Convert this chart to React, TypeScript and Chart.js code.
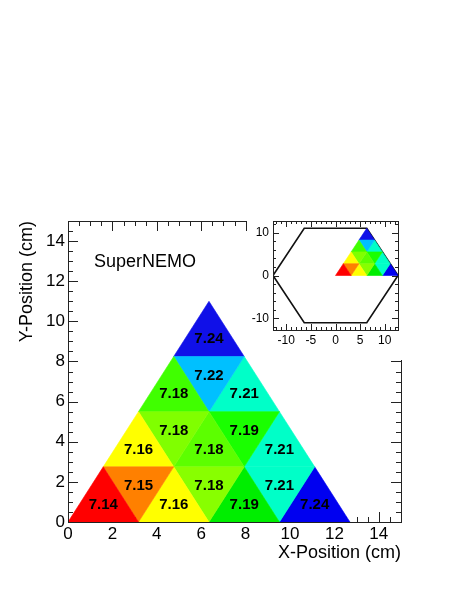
import React, { useEffect, useRef } from "react";
import { Chart, registerables } from "chart.js";

Chart.register(...registerables);

// ---- data ----
const SIDE = 3.175; // cm, side of one small triangular cell
const HEX_R = 12.7; // cm, circumradius of the full hexagonal module (inset)
const cellRow = [0, 0, 0, 0, 0, 0, 0, 1, 1, 1, 1, 1, 2, 2, 2, 3];
const cellPos = [0, 1, 2, 3, 4, 5, 6, 0, 1, 2, 3, 4, 0, 1, 2, 0];
const cellValue = [7.14, 7.15, 7.16, 7.18, 7.19, 7.21, 7.24, 7.16, 7.18, 7.18, 7.19, 7.21, 7.18, 7.22, 7.21, 7.24];
const xTickValues = [0, 2, 4, 6, 8, 10, 12, 14];
const yTickValues = [0, 2, 4, 6, 8, 10, 12, 14];
const insetXTicks = [-10, -5, 0, 5, 10];
const insetYTicks = [-10, 0, 10];

// ---- styles ----
const cellColor = [
  "#ff0000", "#ff8000", "#ffff00", "#88ff00", "#00ee00", "#00ffc8", "#0000f0",
  "#ffff00", "#80ff00", "#5cff00", "#1aff00", "#00ffc8",
  "#40ff00", "#00c0ff", "#00ffc8",
  "#1010e8",
];
const FONT = "'Liberation Sans', Arial, Helvetica, sans-serif";

function cellVertices(r: number, k: number) {
  const h = (SIDE * Math.sqrt(3)) / 2;
  const j = Math.floor(k / 2);
  const y0 = r * h;
  const y1 = (r + 1) * h;
  if (k % 2 === 0) {
    const x0 = (r * SIDE) / 2 + j * SIDE;
    return [
      { x: x0, y: y0 },
      { x: x0 + SIDE, y: y0 },
      { x: x0 + SIDE / 2, y: y1 },
      { x: x0, y: y0 },
    ];
  }
  const x0 = (r * SIDE) / 2 + j * SIDE + SIDE / 2;
  return [
    { x: x0, y: y1 },
    { x: x0 + SIDE, y: y1 },
    { x: x0 + SIDE / 2, y: y0 },
    { x: x0, y: y1 },
  ];
}

function cellCentroid(r: number, k: number) {
  const v = cellVertices(r, k);
  return { x: (v[0].x + v[1].x + v[2].x) / 3, y: (v[0].y + v[1].y + v[2].y) / 3 };
}

function cellDatasets() {
  return cellValue.map((val, i) => ({
    label: "cell" + i,
    data: cellVertices(cellRow[i], cellPos[i]),
    showLine: true,
    fill: "shape",
    backgroundColor: cellColor[i],
    borderColor: cellColor[i],
    borderWidth: 0.6,
    pointRadius: 0,
    pointHoverRadius: 0,
  }));
}

function frameTicksPlugin(cfg: {
  xMajor: number; xMinor: number; yMajor: number; yMinor: number;
  majorLen: number; minorLen: number;
}) {
  return {
    id: "frameTicks",
    beforeDatasetsDraw(chart: any) {
      const { ctx, chartArea: a, scales } = chart;
      const xs = scales.x, ys = scales.y;
      ctx.save();
      ctx.strokeStyle = "#222";
      ctx.lineWidth = 1;
      ctx.beginPath();
      const isMult = (v: number, m: number) => Math.abs(v / m - Math.round(v / m)) < 1e-6;
      const x0 = Math.ceil(xs.min / cfg.xMinor) * cfg.xMinor;
      for (let v = x0; v <= xs.max + 1e-9; v += cfg.xMinor) {
        const px = Math.round(xs.getPixelForValue(v)) + 0.5;
        const len = isMult(v, cfg.xMajor) ? cfg.majorLen : cfg.minorLen;
        ctx.moveTo(px, a.bottom); ctx.lineTo(px, a.bottom - len);
        ctx.moveTo(px, a.top); ctx.lineTo(px, a.top + len);
      }
      const y0 = Math.ceil(ys.min / cfg.yMinor) * cfg.yMinor;
      for (let v = y0; v <= ys.max + 1e-9; v += cfg.yMinor) {
        const py = Math.round(ys.getPixelForValue(v)) + 0.5;
        const len = isMult(v, cfg.yMajor) ? cfg.majorLen : cfg.minorLen;
        ctx.moveTo(a.left, py); ctx.lineTo(a.left + len, py);
        ctx.moveTo(a.right, py); ctx.lineTo(a.right - len, py);
      }
      ctx.stroke();
      ctx.restore();
    },
    afterDraw(chart: any) {
      const { ctx, chartArea: a } = chart;
      ctx.save();
      ctx.strokeStyle = "#222";
      ctx.lineWidth = 1;
      ctx.strokeRect(Math.round(a.left) + 0.5, Math.round(a.top) + 0.5,
        Math.round(a.right) - Math.round(a.left), Math.round(a.bottom) - Math.round(a.top));
      ctx.restore();
    },
  };
}

const labelsPlugin = {
  id: "cellLabels",
  afterDatasetsDraw(chart: any) {
    const { ctx, scales, chartArea: a } = chart;
    ctx.save();
    ctx.fillStyle = "#000";
    ctx.font = `bold 15px ${FONT}`;
    ctx.textAlign = "center";
    ctx.textBaseline = "middle";
    cellValue.forEach((val, i) => {
      const c = cellCentroid(cellRow[i], cellPos[i]);
      ctx.fillText(val.toFixed(2), scales.x.getPixelForValue(c.x), scales.y.getPixelForValue(c.y) + 1);
    });
    // annotation + axis titles
    ctx.font = `18px ${FONT}`;
    ctx.textAlign = "left";
    ctx.textBaseline = "alphabetic";
    ctx.fillText("SuperNEMO", scales.x.getPixelForValue(1.17), scales.y.getPixelForValue(12.7));
    ctx.textAlign = "right";
    ctx.fillText("X-Position (cm)", a.right, a.bottom + 36);
    ctx.translate(32, a.top);
    ctx.rotate(-Math.PI / 2);
    ctx.fillText("Y-Position (cm)", 0, 0);
    ctx.restore();
  },
};

function MainChart() {
  const ref = useRef<HTMLCanvasElement>(null);
  useEffect(() => {
    if (!ref.current) return;
    const tickFont = { family: FONT, size: 17 };
    const chart = new Chart(ref.current, {
      type: "scatter",
      data: { datasets: cellDatasets() as any },
      options: {
        animation: false,
        responsive: false,
        events: [],
        layout: { padding: { left: 28, top: 221, right: 59, bottom: 33 } },
        plugins: { legend: { display: false }, tooltip: { enabled: false } },
        scales: {
          x: {
            type: "linear", min: 0, max: 15,
            grid: { display: false, drawTicks: false }, border: { display: false },
            afterBuildTicks: (s: any) => { s.ticks = xTickValues.map((v) => ({ value: v })); },
            afterFit: (s: any) => { s.height = 40; },
            ticks: { padding: 2, color: "#000", font: tickFont, maxRotation: 0, autoSkip: false },
          },
          y: {
            type: "linear", min: 0, max: 15,
            grid: { display: false, drawTicks: false }, border: { display: false },
            afterBuildTicks: (s: any) => { s.ticks = yTickValues.map((v) => ({ value: v })); },
            afterFit: (s: any) => { s.width = 40; },
            ticks: { padding: 3, color: "#000", font: tickFont, autoSkip: false },
          },
        },
      },
      plugins: [
        frameTicksPlugin({ xMajor: 2, xMinor: 0.5, yMajor: 2, yMinor: 0.5, majorLen: 10, minorLen: 5 }),
        labelsPlugin,
      ],
    });
    return () => chart.destroy();
  }, []);
  return <canvas ref={ref} width={460} height={595} style={{ position: "absolute", left: 0, top: 0 }} />;
}

function InsetChart() {
  const ref = useRef<HTMLCanvasElement>(null);
  useEffect(() => {
    if (!ref.current) return;
    const hex = [0, 1, 2, 3, 4, 5, 6].map((i) => ({
      x: HEX_R * Math.cos((i * Math.PI) / 3),
      y: HEX_R * Math.sin((i * Math.PI) / 3),
    }));
    const tickFont = { family: FONT, size: 12 };
    const chart = new Chart(ref.current, {
      type: "scatter",
      data: {
        datasets: [
          ...(cellDatasets() as any),
          {
            label: "hex",
            data: hex,
            showLine: true,
            fill: false,
            borderColor: "#111",
            borderWidth: 1.6,
            pointRadius: 0,
          },
        ],
      },
      options: {
        animation: false,
        responsive: false,
        events: [],
        layout: { padding: { left: 2, top: 21, right: 19, bottom: 10 } },
        plugins: { legend: { display: false }, tooltip: { enabled: false } },
        scales: {
          x: {
            type: "linear", min: -HEX_R, max: HEX_R,
            grid: { display: false, drawTicks: false }, border: { display: false },
            afterBuildTicks: (s: any) => { s.ticks = insetXTicks.map((v) => ({ value: v })); },
            afterFit: (s: any) => { s.height = 20; },
            ticks: { padding: 3, color: "#000", font: tickFont, maxRotation: 0, autoSkip: false },
          },
          y: {
            type: "linear", min: -HEX_R, max: HEX_R,
            grid: { display: false, drawTicks: false }, border: { display: false },
            afterBuildTicks: (s: any) => { s.ticks = insetYTicks.map((v) => ({ value: v })); },
            afterFit: (s: any) => { s.width = 24; },
            ticks: { padding: 4, color: "#000", font: tickFont, autoSkip: false },
          },
        },
      },
      plugins: [frameTicksPlugin({ xMajor: 5, xMinor: 1, yMajor: 10, yMinor: 2, majorLen: 6, minorLen: 3 })],
    });
    return () => chart.destroy();
  }, []);
  return (
    <canvas
      ref={ref}
      width={170}
      height={160}
      style={{ position: "absolute", left: 247, top: 200, background: "#fff" }}
    />
  );
}

export default function App() {
  return (
    <div style={{ position: "absolute", left: 0, top: 0, width: 460, height: 595, background: "#fff" }}>
      <MainChart />
      <InsetChart />
    </div>
  );
}
